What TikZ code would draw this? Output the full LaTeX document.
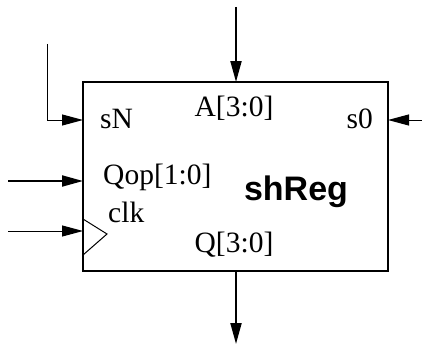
\documentclass[tikz,border=0pt]{standalone}
\usepackage{fontspec}
\setmainfont{Liberation Serif}
\newfontfamily\hvfont{Liberation Sans}
\usetikzlibrary{arrows.meta}
\begin{document}
\begin{tikzpicture}[x=1pt,y=-1pt,
  thickw/.style={line width=2pt},
  thinw/.style={line width=1pt},
  arr/.style={-{Triangle[length=21pt,width=11pt]}},
  lbl/.style={anchor=base west,inner sep=0pt,font=\fontsize{29.5}{30}\selectfont},
  boxstyle/.style={draw,line width=2pt,minimum width=305pt,minimum height=189pt,inner sep=0pt}]
\useasboundingbox (0,0) rectangle (422,345);
\node[boxstyle] (box) at (235.5,176.5) {};
% free ends
\coordinate (sNtop) at (47,44);
\coordinate (sNcorner) at (47,120);
\coordinate (sNend) at (83,120);
\coordinate (s0start) at (422,120);
\coordinate (s0end) at (388,120);
\coordinate (Atop) at (236,7);
\coordinate (Aend) at (236,82);
\coordinate (Qstart) at (236,271);
\coordinate (Qend) at (236,344);
\coordinate (Qopstart) at (8,181);
\coordinate (Qopend) at (83,181);
\coordinate (clkstart) at (8,231);
\coordinate (clkend) at (83,231);
\coordinate (ck1) at (83,219);
\coordinate (ck2) at (107,234);
\coordinate (ck3) at (83,255);
% connectors
\draw[thinw,arr] (sNtop) -- (sNcorner) -- (sNend);
\draw[thinw,arr] (s0start) -- (s0end);
\draw[thickw,arr] (Atop) -- (Aend);
\draw[thickw,arr] (Qstart) -- (Qend);
\draw[thickw,arr] (Qopstart) -- (Qopend);
\draw[thinw,arr] (clkstart) -- (clkend);
\draw[thinw] (ck1) -- (ck2) -- (ck3);
% labels
\node[lbl] (sN) at (100,128) {sN};
\node[lbl,anchor=base east] (s0) at (373,128) {s0};
\node[lbl,anchor=base] (A) at (234,116) {A[3:0]};
\node[lbl] (Qop) at (103,184) {Qop[1:0]};
\node[lbl] (clk) at (108,222) {clk};
\node[lbl,anchor=base] (Q) at (234,252) {Q[3:0]};
\node[anchor=base,inner sep=0pt,font=\hvfont\bfseries\fontsize{34}{36}\selectfont] (name) at (296,200) {shReg};
\end{tikzpicture}
\end{document}
